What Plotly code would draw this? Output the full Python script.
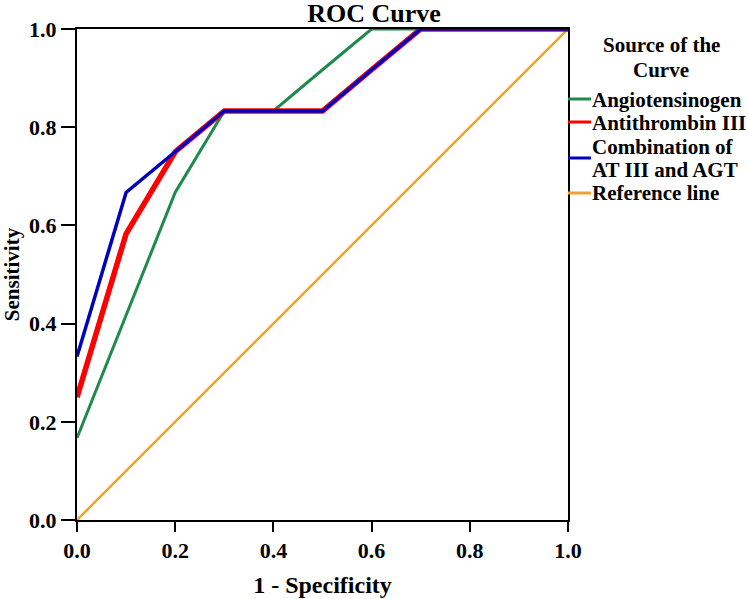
import plotly.graph_objects as go

# Data
fpr_agt = [0.0, 0.1, 0.2, 0.3, 0.4, 0.5, 0.6, 0.7, 0.8, 0.9, 1.0]
tpr_agt = [0.167, 0.417, 0.667, 0.833, 0.833, 0.917, 1.0, 1.0, 1.0, 1.0, 1.0]
fpr_at3 = [0.0, 0.1, 0.2, 0.3, 0.4, 0.5, 0.6, 0.7, 0.8, 0.9, 1.0]
tpr_at3 = [0.25, 0.583, 0.75, 0.833, 0.833, 0.833, 0.917, 1.0, 1.0, 1.0, 1.0]
fpr_comb = [0.0, 0.1, 0.2, 0.3, 0.4, 0.5, 0.6, 0.7, 0.8, 0.9, 1.0]
tpr_comb = [0.333, 0.667, 0.75, 0.833, 0.833, 0.833, 0.917, 1.0, 1.0, 1.0, 1.0]
ref_x = [0.0, 1.0]
ref_y = [0.0, 1.0]

series_names = ["Angiotensinogen", "Antithrombin III", "Combination of|AT III and AGT", "Reference line"]
legend_title_lines = ["Source of the", "Curve"]
colors = ["#1f8a4c", "#ff0000", "#0000c0", "#f4a030"]
widths = [3, 5.5, 3.5, 2.5]
tick_vals = [0.0, 0.2, 0.4, 0.6, 0.8, 1.0]
tick_text = ["0.0", "0.2", "0.4", "0.6", "0.8", "1.0"]

FONT = "Liberation Serif, Times New Roman, serif"

W, H = 748, 599
L, R, T, B = 77, 180, 29, 79
PW = W - L - R
PH = H - T - B


def py(p):
    return (H - B - p) / PH


def px(p):
    return (p - L) / PW


fig = go.Figure()
xs = [fpr_agt, fpr_at3, fpr_comb, ref_x]
ys = [tpr_agt, tpr_at3, tpr_comb, ref_y]
order = [3, 0, 1, 2]
for i in order:
    fig.add_trace(go.Scatter(x=xs[i], y=ys[i], mode="lines", name=series_names[i].replace("|", " "),
                             line=dict(color=colors[i], width=widths[i]),
                             showlegend=False, cliponaxis=False))

# custom legend
legend_sample_y = [99, 122, 158, 193]
legend_text_y = [[100], [123], [147, 170], [193]]
lfont = dict(family=FONT, size=21, color="black", weight="bold")
for i, name in enumerate(series_names):
    fig.add_shape(type="line", xref="paper", yref="paper", x0=1.0, x1=px(591),
                  y0=py(legend_sample_y[i]), y1=py(legend_sample_y[i]),
                  line=dict(color=colors[i], width=3))
    for part, yy in zip(name.split("|"), legend_text_y[i]):
        fig.add_annotation(xref="paper", yref="paper", x=px(590), y=py(yy),
                           text=part, showarrow=False, xanchor="left", yanchor="middle",
                           align="left", font=lfont)

for part, yy in zip(legend_title_lines, [45, 70]):
    fig.add_annotation(xref="paper", yref="paper", x=px(661), y=py(yy),
                       text=part, showarrow=False, xanchor="center", yanchor="middle",
                       font=lfont)

axis_common = dict(range=[0, 1], tickvals=tick_vals, ticktext=tick_text,
                   showgrid=False, zeroline=False, showline=True, linecolor="black",
                   linewidth=2, mirror=True, ticks="outside", tickcolor="black",
                   tickwidth=1.5, automargin=False,
                   tickfont=dict(family=FONT, size=22, color="black", weight="bold"))

fig.update_layout(
    width=W, height=H,
    margin=dict(l=L, r=R, t=T, b=B),
    paper_bgcolor="white", plot_bgcolor="white",
    font=dict(family=FONT, color="black", weight="bold"),
    title=dict(text="ROC Curve", x=0.5, xref="container", xanchor="center",
               y=1 - 13 / H, yref="container", yanchor="middle",
               font=dict(family=FONT, size=26, color="black", weight="bold")),
    xaxis=dict(axis_common, ticklen=10,
               title=dict(text="1 - Specificity", standoff=14,
                          font=dict(family=FONT, size=24, color="black", weight="bold"))),
    yaxis=dict(axis_common, ticklen=14,
               title=dict(text="Sensitivity", standoff=6,
                          font=dict(family=FONT, size=21, color="black", weight="bold"))),
    showlegend=False,
)

fig.write_html("out.html", config={"displayModeBar": False},
               post_script="document.body.style.margin='0';document.body.style.overflow='hidden';")
